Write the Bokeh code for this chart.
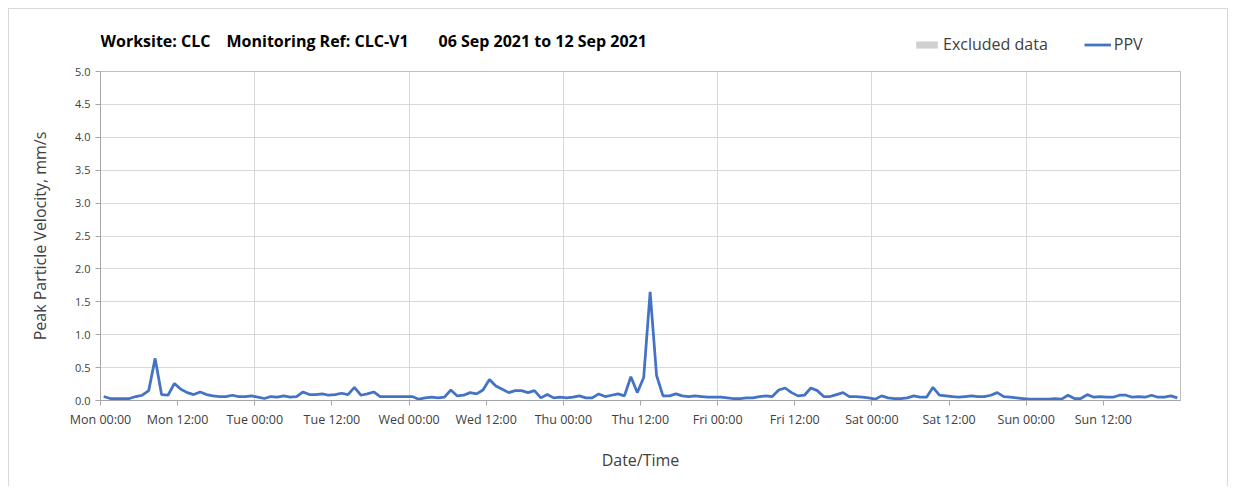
import pandas as pd
from bokeh.plotting import figure
from bokeh.layouts import column
from bokeh.models import (FixedTicker, DatetimeTickFormatter, Range1d,
                          Legend, LegendItem, ColumnDataSource, NumeralTickFormatter)
from bokeh.core.properties import value
from bokeh.embed import file_html
from bokeh.resources import INLINE

# ---- data (hourly PPV readings, mm/s) ----
start = "2021-09-06 00:30"
mon = [0.06, 0.03, 0.03, 0.03, 0.03, 0.06, 0.08, 0.15, 0.64, 0.09, 0.08, 0.26,
       0.17, 0.12, 0.09, 0.13, 0.09, 0.07, 0.06, 0.06, 0.08, 0.06, 0.06, 0.07]
tue = [0.05, 0.03, 0.06, 0.05, 0.07, 0.05, 0.06, 0.13, 0.09, 0.09, 0.10, 0.08,
       0.09, 0.11, 0.09, 0.20, 0.08, 0.10, 0.13, 0.06, 0.06, 0.06, 0.06, 0.06]
wed = [0.06, 0.02, 0.04, 0.05, 0.04, 0.05, 0.16, 0.07, 0.08, 0.12, 0.10, 0.16,
       0.32, 0.22, 0.17, 0.12, 0.15, 0.15, 0.12, 0.15, 0.04, 0.09, 0.04, 0.05]
thu = [0.04, 0.05, 0.07, 0.04, 0.04, 0.10, 0.06, 0.08, 0.10, 0.07, 0.36, 0.12,
       0.35, 1.65, 0.38, 0.07, 0.07, 0.10, 0.07, 0.06, 0.07, 0.06, 0.05, 0.05]
fri = [0.05, 0.04, 0.03, 0.03, 0.04, 0.04, 0.06, 0.07, 0.06, 0.16, 0.19, 0.12,
       0.07, 0.08, 0.19, 0.15, 0.06, 0.06, 0.09, 0.12, 0.06, 0.06, 0.05, 0.04]
sat = [0.02, 0.07, 0.04, 0.03, 0.03, 0.04, 0.07, 0.05, 0.05, 0.20, 0.08, 0.07,
       0.06, 0.05, 0.06, 0.07, 0.06, 0.06, 0.08, 0.12, 0.06, 0.05, 0.04, 0.03]
sun = [0.02, 0.02, 0.02, 0.02, 0.03, 0.02, 0.08, 0.03, 0.03, 0.09, 0.05, 0.06,
       0.05, 0.05, 0.08, 0.08, 0.05, 0.06, 0.05, 0.08, 0.05, 0.05, 0.07, 0.04]
y_ticks = [0.0, 0.5, 1.0, 1.5, 2.0, 2.5, 3.0, 3.5, 4.0, 4.5, 5.0]
title_parts = ["Worksite: CLC", "Monitoring Ref: CLC-V1", "06 Sep 2021 to 12 Sep 2021"]
legend_labels = ["Excluded data", "PPV"]

ppv = mon + tue + wed + thu + fri + sat + sun
times = pd.date_range(start, periods=len(ppv), freq="h")
src = ColumnDataSource(dict(t=times, v=ppv))

t0 = pd.Timestamp("2021-09-06 00:00")
t1 = pd.Timestamp("2021-09-13 00:00")
to_ms = lambda ts: ts.value / 1e6
half_days = [to_ms(t) for t in pd.date_range(t0, t1 - pd.Timedelta(hours=12), freq="12h")]
days = [to_ms(t) for t in pd.date_range(t0, t1, freq="24h")]

FONT = "Open Sans"
W = 1218
FW = 1080  # frame width in px (shared by both figures in the column)
BLUE = "#4472C4"
GREY = "#d0d0d0"

# ---------- header strip (title + legend) ----------
hdr = figure(width=W, height=55, output_backend="svg", toolbar_location=None,
             x_range=Range1d(0, FW), y_range=Range1d(0, 55),
             min_border=0, outline_line_color=None)
hdr.axis.visible = False
hdr.grid.visible = False
hdr.text(x=[0, 126, 338], y=[24, 24, 24], text=title_parts,
         text_font=value(FONT), text_font_size="16px", text_font_style="bold",
         text_color="#000000", text_baseline="middle")
# legend proxies: lie outside the header's visible range, used only for legend swatches
ex = hdr.quad(left=[-50], right=[-40], top=[1], bottom=[0], fill_color=GREY, line_color=None)
pl = hdr.line(x=[-50, -40], y=[0, 0], line_color=BLUE, line_width=2.75)
legend = Legend(items=[LegendItem(label=legend_labels[0], renderers=[ex]),
                       LegendItem(label=legend_labels[1], renderers=[pl])],
                orientation="horizontal", location=(813, 9),
                label_text_font=FONT, label_text_font_size="16px",
                label_text_color="#404040", glyph_width=27, glyph_height=9,
                label_height=20, label_standoff=3, spacing=36, padding=0, margin=0,
                border_line_color=None, background_fill_alpha=0)
hdr.add_layout(legend, "center")

# ---------- main chart ----------
p = figure(width=W, height=422, x_axis_type="datetime",
           output_backend="svg", toolbar_location=None,
           x_range=Range1d(to_ms(t0), to_ms(t1)), y_range=Range1d(0, 5),
           min_border_left=91, min_border_right=47, min_border_top=7,
           min_border_bottom=86)
p.outline_line_color = "#bfbfbf"

p.xaxis.ticker = FixedTicker(ticks=half_days)
p.xaxis.formatter = DatetimeTickFormatter(
    hours="%a %H:%M", days="%a %H:%M", hourmin="%a %H:%M", months="%a %H:%M",
    minutes="%a %H:%M", seconds="%a %H:%M", minsec="%a %H:%M")
p.xgrid.ticker = FixedTicker(ticks=days)
p.yaxis.ticker = FixedTicker(ticks=y_ticks)
p.yaxis.formatter = NumeralTickFormatter(format="0.0")
for ax in (p.xaxis[0], p.yaxis[0]):
    ax.axis_line_color = "#a6a6a6"
    ax.major_tick_line_color = "#a6a6a6"
    ax.major_tick_out = 5
    ax.major_tick_in = 0
    ax.minor_tick_line_color = None
    ax.major_label_text_font = FONT
    ax.major_label_text_font_size = "12.5px"
    ax.major_label_text_color = "#404040"
    ax.axis_label_text_font = FONT
    ax.axis_label_text_font_size = "16px"
    ax.axis_label_text_font_style = "normal"
    ax.axis_label_text_color = "#404040"
p.yaxis.major_label_text_font_size = "11px"
p.xaxis.axis_label = "Date/Time"
p.yaxis.axis_label = "Peak Particle Velocity, mm/s"
p.xaxis.axis_label_standoff = 18
p.yaxis.axis_label_standoff = 21

p.xgrid.grid_line_color = "#d9d9d9"
p.ygrid.grid_line_color = "#d9d9d9"

p.line("t", "v", source=src, line_color=BLUE, line_width=2.75)

layout = column(hdr, p, spacing=0,
                styles={"border": "1px solid #d9d9d9", "border-bottom": "none",
                        "margin-left": "8px", "margin-top": "8px"})

open("out.html", "w").write(file_html(layout, INLINE))
